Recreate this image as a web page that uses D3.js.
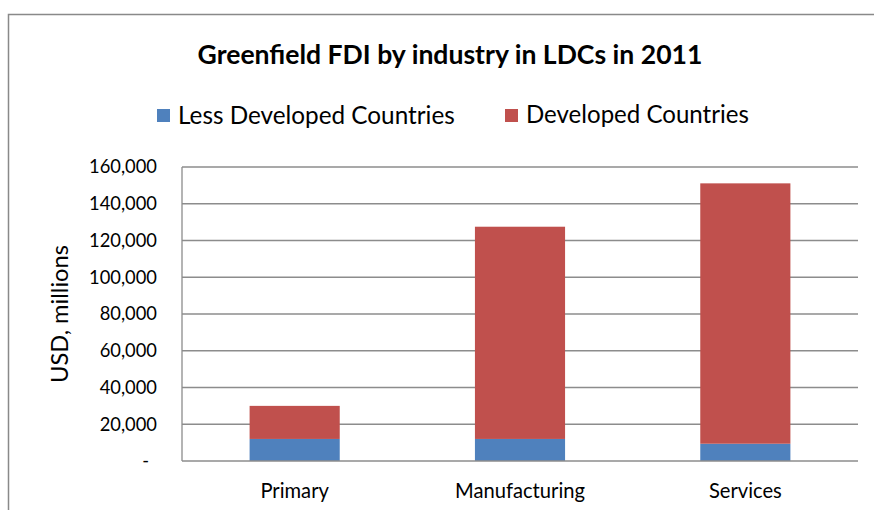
<!DOCTYPE html>
<html>
<head>
<meta charset="utf-8">
<script src="https://cdn.jsdelivr.net/npm/d3@7"></script>
<style>
  body { margin: 0; background: #fff; }
  text { font-family: Lato, "Open Sans", sans-serif; fill: #000; }
</style>
</head>
<body>
<div id="chart"></div>
<script>
// data
const categories = ["Primary", "Manufacturing", "Services"];
const seriesNames = ["Less Developed Countries", "Developed Countries"];
const lessDeveloped = [12000, 12000, 9400];
const developed = [18000, 115500, 141700];
const yTicks = [0, 20000, 40000, 60000, 80000, 100000, 120000, 140000, 160000];
const colors = ["#4F81BD", "#C0504D"];

const width = 874, height = 510;
const margin = {top: 167, right: 16, bottom: 49, left: 182};

const svg = d3.select("#chart").append("svg")
  .attr("width", width)
  .attr("height", height);

// chart frame (bottom/right edges fall outside the crop)
svg.append("rect")
  .attr("x", 8.5).attr("y", 14.5)
  .attr("width", 900).attr("height", 600)
  .attr("fill", "none")
  .attr("stroke", "#898989")
  .attr("stroke-width", 1.5);

const x = d3.scaleBand()
  .domain(categories)
  .range([margin.left, width - margin.right])
  .paddingInner(0.6)
  .paddingOuter(0.3);

const y = d3.scaleLinear()
  .domain([0, 160000])
  .range([height - margin.bottom, margin.top]);

// font size that makes a string span a given width (Calibri isn't available)
function fitSize(str, base, target, weight) {
  const t = svg.append("text").attr("font-size", base)
    .attr("font-weight", weight || "normal").text(str);
  const w = t.node().getComputedTextLength();
  t.remove();
  return base * target / w;
}

// gridlines
svg.append("g")
  .selectAll("line")
  .data(yTicks.slice(1))
  .join("line")
  .attr("x1", margin.left).attr("x2", width - margin.right)
  .attr("y1", d => y(d)).attr("y2", d => y(d))
  .attr("stroke", "#8c8c8c")
  .attr("stroke-width", 1.3);

// stacked bars
const rows = categories.map((c, i) => ({cat: c, ldc: lessDeveloped[i], dev: developed[i]}));
const stack = d3.stack().keys(["ldc", "dev"])(rows);

svg.append("g")
  .selectAll("g")
  .data(stack)
  .join("g")
  .attr("fill", (d, i) => colors[i])
  .selectAll("rect")
  .data(d => d)
  .join("rect")
  .attr("x", d => x(d.data.cat))
  .attr("width", x.bandwidth())
  .attr("y", d => y(d[1]))
  .attr("height", d => y(d[0]) - y(d[1]));

// axes lines
svg.append("line")
  .attr("x1", margin.left).attr("x2", margin.left)
  .attr("y1", y(160000)).attr("y2", y(0))
  .attr("stroke", "#8c8c8c").attr("stroke-width", 1.3);
svg.append("line")
  .attr("x1", margin.left).attr("x2", width - margin.right)
  .attr("y1", y(0)).attr("y2", y(0))
  .attr("stroke", "#8c8c8c").attr("stroke-width", 1.3);

// y tick labels
const fmt = d3.format(",");
const tickSize = fitSize("160,000", 16, 68);
svg.append("g")
  .selectAll("text")
  .data(yTicks)
  .join("text")
  .attr("x", d => d === 0 ? 149 : 157)
  .attr("y", d => y(d))
  .attr("dy", "0.35em")
  .attr("text-anchor", "end")
  .attr("font-size", tickSize)
  .text(d => d === 0 ? "-" : fmt(d));

// category labels
const catSize = fitSize("Manufacturing", 16, 130);
svg.append("g")
  .selectAll("text")
  .data(categories)
  .join("text")
  .attr("x", d => x(d) + x.bandwidth() / 2)
  .attr("y", 491)
  .attr("dy", "0.35em")
  .attr("text-anchor", "middle")
  .attr("font-size", catSize)
  .text(d => d);

// y axis title
svg.append("text")
  .attr("transform", "translate(60,314) rotate(-90)")
  .attr("dy", "0.35em")
  .attr("text-anchor", "middle")
  .attr("font-size", fitSize("USD, millions", 20, 138))
  .text("USD, millions");

// chart title
const titleText = "Greenfield FDI by industry in LDCs in 2011";
svg.append("text")
  .attr("x", 450)
  .attr("y", 55)
  .attr("dy", "0.35em")
  .attr("text-anchor", "middle")
  .attr("font-size", fitSize(titleText, 19, 505, "bold"))
  .attr("font-weight", "bold")
  .text(titleText);

// legend
const legendItems = [
  {name: seriesNames[0], color: colors[0], x: 157, w: 277},
  {name: seriesNames[1], color: colors[1], x: 505, w: 223}
];
const legend = svg.append("g");
legendItems.forEach(it => {
  legend.append("rect")
    .attr("x", it.x).attr("y", 109)
    .attr("width", 13).attr("height", 13)
    .attr("fill", it.color);
  legend.append("text")
    .attr("x", it.x + 21)
    .attr("y", 115)
    .attr("dy", "0.35em")
    .attr("font-size", fitSize(it.name, 21, it.w))
    .text(it.name);
});
</script>
</body>
</html>
